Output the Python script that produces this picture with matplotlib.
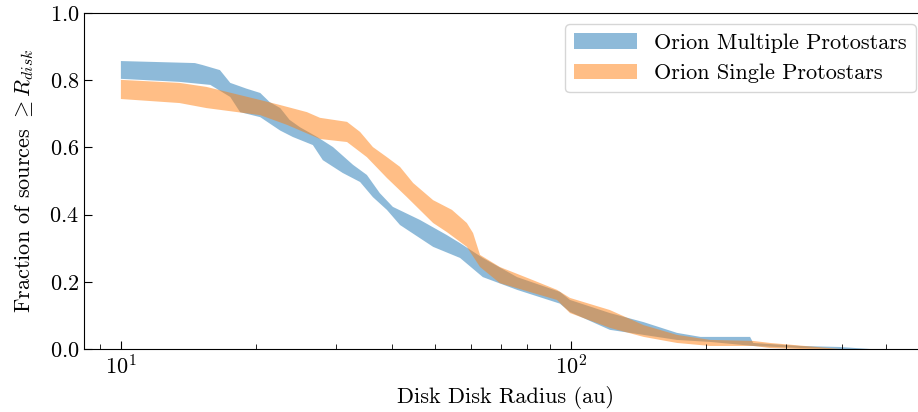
import numpy as np
import matplotlib
matplotlib.use("Agg")
import matplotlib.pyplot as plt

plt.rcParams["font.family"] = "serif"
plt.rcParams["font.serif"] = ["cmr10"]
plt.rcParams["mathtext.fontset"] = "cm"
plt.rcParams["axes.formatter.use_mathtext"] = True
plt.rcParams["axes.unicode_minus"] = False

# survival-function confidence bands: radius (au) and fraction of sources >= R
mult_up_r = [10.0, 14.6, 15.2, 16.6, 17.5, 19.0, 20.4, 21.4, 22.6, 23.7, 25.0, 27.3, 29.6,
             32.8, 35.2, 37.6, 40.2, 46.2, 53.0, 56.7, 63.7, 75.9, 94.5, 99.5, 122, 145,
             172, 194, 250, 254, 323, 396, 462]
mult_up_f = [0.857, 0.851, 0.845, 0.830, 0.792, 0.775, 0.762, 0.735, 0.717, 0.682, 0.660, 0.631, 0.601,
             0.548, 0.518, 0.464, 0.423, 0.384, 0.339, 0.315, 0.271, 0.214, 0.170, 0.146, 0.107, 0.080,
             0.048, 0.036, 0.036, 0.018, 0.009, 0.006, 0.0]
mult_lo_r = [10.0, 13.5, 15.8, 17.5, 18.4, 20.4, 22.6, 24.1, 26.7, 28.1, 31.1, 34.0,
             36.3, 39.0, 41.7, 49.4, 56.7, 63.7, 75.9, 94.5, 99.5, 122, 145, 172,
             204, 254, 323, 396]
mult_lo_f = [0.804, 0.795, 0.786, 0.750, 0.705, 0.690, 0.650, 0.631, 0.607, 0.562, 0.524, 0.497,
             0.452, 0.414, 0.369, 0.304, 0.271, 0.214, 0.176, 0.135, 0.110, 0.057, 0.042, 0.027,
             0.021, 0.009, 0.003, 0.0]

sing_up_r = [10.0, 13.5, 15.5, 20.4, 22.6, 25.9, 27.7, 31.8, 34.0, 36.3, 39.0, 41.7,
             44.6, 49.4, 54.4, 58.7, 60.6, 62.8, 69.5, 82.3, 93.1, 99.5, 122, 145,
             172, 204, 254, 277, 396]
sing_up_f = [0.801, 0.792, 0.780, 0.741, 0.726, 0.705, 0.688, 0.676, 0.646, 0.601, 0.571, 0.542,
             0.494, 0.443, 0.414, 0.375, 0.345, 0.280, 0.244, 0.205, 0.176, 0.152, 0.116, 0.071,
             0.042, 0.027, 0.024, 0.018, 0.0]
sing_lo_r = [10.0, 13.5, 15.5, 20.4, 23.4, 27.7, 31.8, 35.2, 39.0, 43.2, 49.4, 53.0,
             58.7, 62.8, 69.5, 82.3, 93.1, 99.5, 122, 145, 172, 204, 254, 277, 323]
sing_lo_f = [0.744, 0.732, 0.717, 0.696, 0.667, 0.625, 0.616, 0.571, 0.509, 0.452, 0.375, 0.348,
             0.304, 0.244, 0.196, 0.167, 0.146, 0.107, 0.063, 0.036, 0.018, 0.009, 0.009, 0.003, 0.0]


def band(ax, r_up, f_up, r_lo, f_lo, color, label):
    xs = np.concatenate([r_up, r_lo[::-1]])
    ys = np.concatenate([f_up, f_lo[::-1]])
    ax.fill(xs, ys, color=color, alpha=0.5, lw=0, label=label)


fig = plt.figure(figsize=(9.18, 4.12), dpi=100)
ax = fig.add_axes([84 / 918, 1 - 349 / 412, (927 - 84) / 918, (349 - 13) / 412])

band(ax, np.array(mult_up_r), np.array(mult_up_f), np.array(mult_lo_r), np.array(mult_lo_f),
     "tab:blue", "Orion Multiple Protostars")
band(ax, np.array(sing_up_r), np.array(sing_up_f), np.array(sing_lo_r), np.array(sing_lo_f),
     "tab:orange", "Orion Single Protostars")

ax.set_xscale("log")
ax.set_xlim(8.28, 618)
ax.set_ylim(0, 1.0)
ax.set_yticks([0.0, 0.2, 0.4, 0.6, 0.8, 1.0])
ax.tick_params(which="both", direction="in", labelsize=16)
ax.tick_params(which="major", length=6)
ax.tick_params(which="minor", length=3.5)
ax.set_xlabel("Disk Disk Radius (au)", fontsize=16, labelpad=6)
ax.set_ylabel(r"Fraction of sources $\geq R_{disk}$", fontsize=16, labelpad=10)
ax.legend(loc="upper right", fontsize=16, handlelength=2.8)

fig.savefig("out.png", dpi=100)
